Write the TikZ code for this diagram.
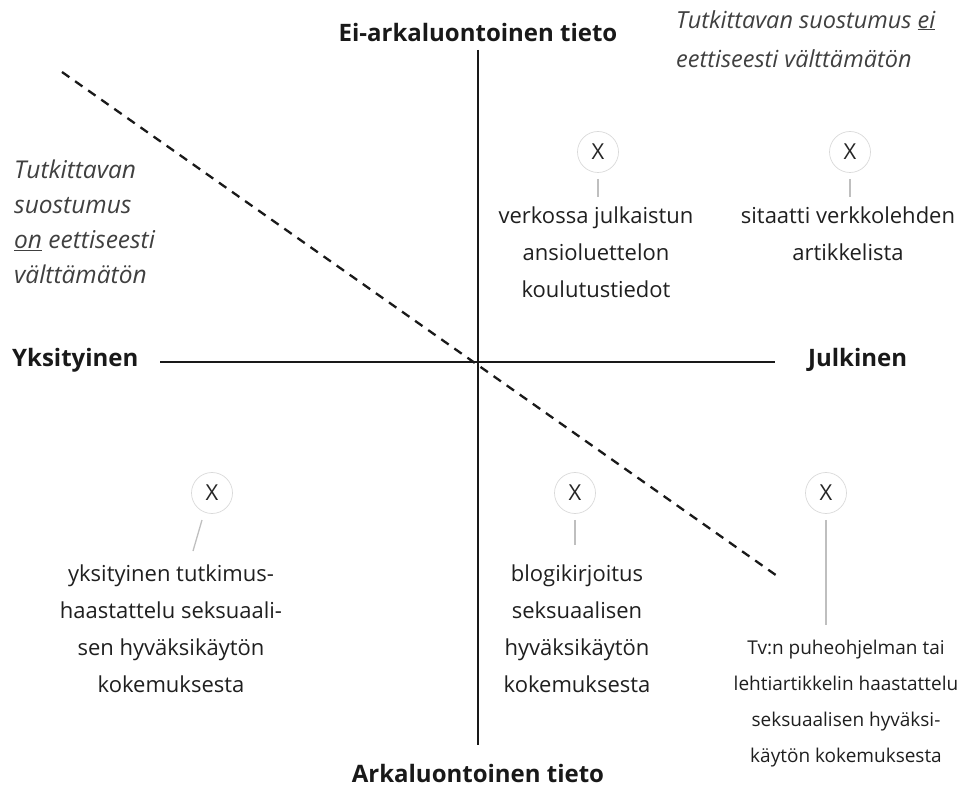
\documentclass[tikz,border=0pt]{standalone}
\usepackage{fontspec}
\setmainfont{Open Sans}
\begin{document}
\begin{tikzpicture}[x=1pt,y=-1pt,
  txt/.style={font=\fontsize{22}{37}\selectfont, text=black!88, align=center, inner sep=0pt},
  smalltxt/.style={txt, font=\fontsize{19}{36}\selectfont},
  note/.style={text=black!75, align=left, inner sep=0pt},
  axlabel/.style={font=\fontsize{24}{28}\selectfont\bfseries, text=black!90, inner sep=0pt},
  xmark/.style={circle, draw=black!15, line width=0.7pt, minimum size=41pt, inner sep=0pt, font=\fontsize{22}{24}\selectfont, text=black!85},
  conn/.style={draw=black!25, line width=1.3pt},
  axis/.style={line width=1.6pt, black!90}]
\useasboundingbox (0,0) rectangle (970,786);
% axes
\coordinate (vt) at (478,50);
\coordinate (vb) at (478,745);
\coordinate (hl) at (160,362);
\coordinate (hr) at (775,362);
\coordinate (dl) at (62,72);
\coordinate (dr) at (780,578);
\draw[axis] (vt) -- (vb);
\draw[axis] (hl) -- (hr);
\draw[line width=2.3pt, black!90, dash pattern=on 9pt off 7pt] (dl) -- (dr);
% axis labels
\node[axlabel] (top) at (478,33) {Ei-arkaluontoinen tieto};
\node[axlabel] (bot) at (478,773) {Arkaluontoinen tieto};
\node[axlabel, anchor=west] (priv) at (12,360) {Yksityinen};
\node[axlabel, anchor=west] (pub) at (808,360) {Julkinen};
% notes
\node[note, anchor=north west, font=\fontsize{23.5}{39}\selectfont\itshape] (ntr) at (676,10) {Tutkittavan suostumus \underline{ei}\\eettiseesti välttämätön};
\node[note, anchor=north west, font=\fontsize{24.5}{35}\selectfont\itshape] (nl) at (14,160) {Tutkittavan\\suostumus\\\underline{on} eettiseesti\\välttämätön};
% marks
\node[xmark] (x1) at (598,152) {X};
\node[xmark] (x2) at (850,152) {X};
\node[xmark] (x3) at (212,493) {X};
\node[xmark] (x4) at (575,493) {X};
\node[xmark] (x5) at (826,493) {X};
% texts
\node[txt, anchor=north] (t1) at (596,207) {verkossa julkaistun\\ansioluettelon\\koulutustiedot};
\node[txt, anchor=north] (t2) at (848,207) {sitaatti verkkolehden\\artikkelista};
\node[txt, anchor=north] (t3) at (171,565) {yksityinen tutkimus-\\haastattelu seksuaali-\\sen hyväksikäytön\\kokemuksesta};
\node[txt, anchor=north] (t4) at (577,565) {blogikirjoitus\\seksuaalisen\\hyväksikäytön\\kokemuksesta};
\node[smalltxt, anchor=north] (t5) at (846,640) {Tv:n puheohjelman tai\\lehtiartikkelin haastattelu\\seksuaalisen hyväksi-\\käytön kokemuksesta};
% connectors
\coordinate (c1) at (598,197);
\coordinate (c2) at (850,197);
\coordinate (c3) at (193,551);
\coordinate (c4) at (575,545);
\coordinate (c5) at (826,625);
\draw[conn] (x1.south) ++(0,6) -- (c1);
\draw[conn] (x2.south) ++(0,6) -- (c2);
\draw[conn] (202,520) -- (c3);
\draw[conn] (x4.south) ++(0,6) -- (c4);
\draw[conn] (x5.south) ++(0,6) -- (c5);
\end{tikzpicture}
\end{document}
